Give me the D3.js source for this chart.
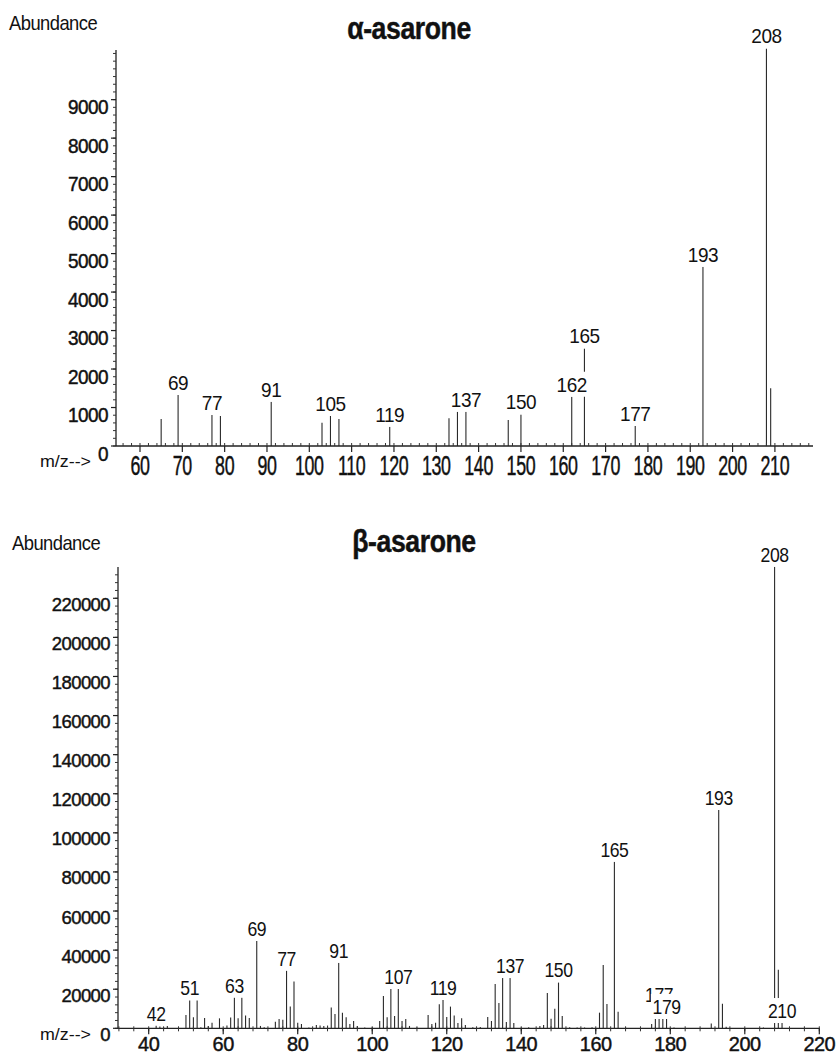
<!DOCTYPE html>
<html>
<head>
<meta charset="utf-8">
<script src="https://cdn.jsdelivr.net/npm/d3@7/dist/d3.min.js"></script>
<style>
  html, body { margin: 0; padding: 0; background: #fff; }
  svg { display: block; }
  text { font-family: "Liberation Sans", Arial, sans-serif; fill: #111; }
  text.heavy { stroke: #111; stroke-width: 0.45px; }
</style>
</head>
<body>
<svg id="chart" width="836" height="1056"></svg>
<script>
// ---------- DATA ----------
// alpha-asarone spectrum
const alphaMz = [65, 69, 77, 79, 91, 103, 105, 107, 119, 133, 135, 137, 147, 150, 162, 165, 177, 193, 208, 209];
const alphaAbundance = [700, 1325, 805, 780, 1150, 605, 780, 700, 500, 720, 890, 890, 675, 820, 1280, 2535, 520, 4655, 10330, 1500];
const alphaLabels = [69, 77, 91, 105, 119, 137, 150, 162, 165, 177, 193, 208];
const alphaXTicks = [60, 70, 80, 90, 100, 110, 120, 130, 140, 150, 160, 170, 180, 190, 200, 210];
const alphaYTicks = [0, 1000, 2000, 3000, 4000, 5000, 6000, 7000, 8000, 9000];

// beta-asarone spectrum
const betaMz = [42, 43, 44, 45, 50, 51, 52, 53, 54, 55, 56, 57, 59, 61, 62, 63, 64, 65, 66, 67, 69, 70, 71,
  74, 75, 76, 77, 78, 79, 80, 81, 83, 85, 86, 87, 88, 89, 90, 91, 92, 93, 94, 95, 96, 98, 100,
  102, 103, 104, 105, 106, 107, 108, 109, 110, 112, 115, 116, 117, 118, 119, 120, 121, 122, 123, 124, 125, 127, 129,
  131, 132, 133, 134, 135, 136, 137, 138, 140, 142, 145, 146, 147, 148, 149, 150, 151, 153, 155, 157, 159,
  161, 162, 163, 165, 166, 168, 175, 176, 177, 178, 179, 181, 191, 193, 194, 195, 205, 208, 209, 210];
const betaAbundance = [1400, 900, 600, 1200, 6800, 14300, 5600, 14300, 500, 5300, 1200, 2900, 5100, 1400, 5500, 15700, 5100, 15700, 6500, 5300, 44700, 1200, 500,
  3400, 4800, 4400, 29500, 11100, 23900, 2900, 2200, 400, 1700, 1400, 1200, 1400, 10600, 7300, 33500, 8000, 5600, 2200, 3750, 1200, 400, 500,
  3750, 16500, 5600, 20500, 6300, 20100, 3750, 4800, 1200, 400, 6800, 2200, 2900, 12300, 14500, 5800, 11100, 6500, 2700, 5100, 1700, 600, 700,
  5800, 3750, 22700, 13000, 25700, 3200, 25700, 2700, 400, 500, 1200, 1700, 18100, 4900, 10000, 23500, 6300, 500, 400, 400, 600,
  8000, 32400, 12400, 85200, 8500, 400, 2200, 4800, 4800, 4800, 4800, 400, 2400, 111700, 12600, 850, 400, 236100, 30000, 2700];
const betaLabels = [42, 51, 63, 69, 77, 91, 107, 119, 137, 150, 165, 177, 179, 193, 208, 210];
const betaXTicks = [40, 60, 80, 100, 120, 140, 160, 180, 200, 220];
const betaYTicks = [0, 20000, 40000, 60000, 80000, 100000, 120000, 140000, 160000, 180000, 200000, 220000];

// ---------- DRAWING ----------
const svg = d3.select("#chart");

function txt(g, x, y, s, o) {
  const t = g.append("text")
    .attr("transform", `translate(${x},${y}) scale(${o.sx || 1},1)`)
    .attr("text-anchor", o.anchor || "start")
    .style("font-size", o.size + "px")
    .style("font-weight", o.weight || "normal")
    .text(s);
  if (o.ls) t.style("letter-spacing", o.ls + "px");
  if (o.cls) t.attr("class", o.cls);
  return t;
}

function drawSpectrum(cfg) {
  const g = svg.append("g");
  const x = d3.scaleLinear().domain(cfg.xDomain).range(cfg.xRange);
  const y = d3.scaleLinear().domain(cfg.yDomain).range(cfg.yRange);
  const base = y(0);
  const x0 = cfg.xRange[0], x1 = cfg.xRange[1];

  // title & axis captions
  txt(g, cfg.titleX, cfg.titleY, cfg.title, { size: 31, weight: "bold", anchor: "middle", sx: 0.86, ls: -0.5, cls: "heavy" });
  txt(g, cfg.abX, cfg.abY, "Abundance", { size: 20, sx: 0.92, ls: -0.6 });
  txt(g, 40, cfg.mzY, "m/z-->", { size: 17, sx: 1.05 });

  // peaks
  const peaks = cfg.mz.map((m, i) => ({ m, v: cfg.ab[i] }));
  g.append("g").selectAll("line").data(peaks).join("line")
    .attr("x1", d => x(d.m)).attr("x2", d => x(d.m))
    .attr("y1", base).attr("y2", d => y(d.v))
    .attr("stroke", "#2a2a2a").attr("stroke-width", 1.1);

  // y axis
  g.append("line").attr("x1", x0).attr("x2", x0).attr("y1", cfg.yRange[1]).attr("y2", base)
    .attr("stroke", "#222").attr("stroke-width", 1.3);
  const yMinor = d3.range(0, cfg.yDomain[1], cfg.yMinorStep);
  g.append("g").selectAll("line").data(yMinor).join("line")
    .attr("x1", x0 - 3).attr("x2", x0).attr("y1", d => y(d)).attr("y2", d => y(d))
    .attr("stroke", "#333").attr("stroke-width", 1);
  g.append("g").selectAll("line").data(cfg.yTicks).join("line")
    .attr("x1", x0 - 5).attr("x2", x0).attr("y1", d => y(d)).attr("y2", d => y(d))
    .attr("stroke", "#222").attr("stroke-width", 1.2);
  cfg.yTicks.forEach(t => {
    txt(g, x0 - 8, y(t) + cfg.yLabDy, String(t), { size: cfg.yLabSize, anchor: "end", sx: cfg.yLabSx, ls: -0.6, cls: "heavy" });
  });

  // x axis
  g.append("line").attr("x1", x0).attr("x2", x1).attr("y1", base).attr("y2", base)
    .attr("stroke", "#222").attr("stroke-width", 1.3);
  const xMinor = d3.range(Math.ceil(cfg.xDomain[0] / cfg.xMinorStep) * cfg.xMinorStep, cfg.xDomain[1] + 0.01, cfg.xMinorStep);
  g.append("g").selectAll("line").data(xMinor).join("line")
    .attr("x1", d => x(d)).attr("x2", d => x(d))
    .attr("y1", base + cfg.minorDown).attr("y2", base - cfg.minorUp)
    .attr("stroke", "#333").attr("stroke-width", 1);
  g.append("g").selectAll("line").data(cfg.xTicks).join("line")
    .attr("x1", d => x(d)).attr("x2", d => x(d))
    .attr("y1", base).attr("y2", base + 6)
    .attr("stroke", "#222").attr("stroke-width", 1.2);
  cfg.xTicks.forEach(t => {
    txt(g, x(t), base + cfg.xLabDy, String(t), { size: cfg.xLabSize, anchor: "middle", sx: cfg.xLabSx, ls: -0.5, cls: "heavy" });
  });

  // peak labels (white box hides lines behind)
  const lab = g.append("g");
  cfg.labels.forEach(m => {
    const i = cfg.mz.indexOf(m);
    const top = y(cfg.ab[i]);
    const bl = top - 5 - (cfg.lift[m] || 0);
    const w = String(m).length * 20 * 0.556 * cfg.peakSx + 2;
    lab.append("rect")
      .attr("x", x(m) - w / 2).attr("y", bl - 20)
      .attr("width", w).attr("height", (cfg.lift[m] ? 20 : 25))
      .attr("fill", "#fff");
    txt(lab, x(m), bl, String(m), { size: 20, anchor: "middle", sx: cfg.peakSx, ls: -0.5 });
  });
}

drawSpectrum({
  title: "\u03b1-asarone", titleX: 409, titleY: 39,
  abX: 9, abY: 30, mzY: 467,
  mz: alphaMz, ab: alphaAbundance, labels: alphaLabels, lift: {},
  xDomain: [54.33, 219], xRange: [116, 813],
  yDomain: [0, 10290], yRange: [446, 50],
  xTicks: alphaXTicks, yTicks: alphaYTicks,
  yMinorStep: 200, xMinorStep: 2, minorUp: 3, minorDown: 0,
  yLabDy: 14.5, yLabSize: 20, yLabSx: 0.95,
  xLabDy: 29, xLabSize: 27, xLabSx: 0.66,
  peakSx: 0.95
});

drawSpectrum({
  title: "\u03b2-asarone", titleX: 414, titleY: 552,
  abX: 12, abY: 550, mzY: 1040,
  mz: betaMz, ab: betaAbundance, labels: betaLabels, lift: { 177: 12 },
  xDomain: [31.76, 220], xRange: [118, 819.3],
  yDomain: [0, 236000], yRange: [1028.3, 567],
  xTicks: betaXTicks, yTicks: betaYTicks,
  yMinorStep: 4000, xMinorStep: 4, minorUp: 2, minorDown: 3,
  yLabDy: 12.5, yLabSize: 18.5, yLabSx: 1.0,
  xLabDy: 23, xLabSize: 21, xLabSx: 0.95,
  peakSx: 0.88
});
</script>
</body>
</html>
